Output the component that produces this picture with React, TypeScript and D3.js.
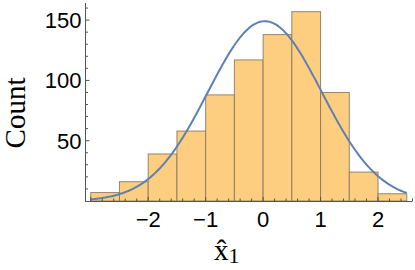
import React from "react";
import * as d3 from "d3";

const binEdges = [-3, -2.5, -2, -1.5, -1, -0.5, 0, 0.5, 1, 1.5, 2, 2.5];
const counts = [7, 16, 39, 58, 88, 117, 138, 157, 90, 24, 6];
const xMajorTicks = [-3, -2, -1, 0, 1, 2];
const xTickLabels = ["", "−2", "−1", "0", "1", "2"];
const yMajorTicks = [50, 100, 150];
const yTickLabels = ["50", "100", "150"];
const fitMean = 0.03;
const fitSd = 0.99;

const W = 415;
const H = 270;

export default function App() {
  const x = d3.scaleLinear().domain([-3.1, 2.6]).range([85, 412.5]);
  const y = d3.scaleLinear().domain([0, 164.2]).range([201, 3]);

  const total = d3.sum(counts);
  const bw = binEdges[1] - binEdges[0];
  const pdf = (v: number) =>
    (total * bw * Math.exp(-((v - fitMean) ** 2) / (2 * fitSd * fitSd))) /
    (fitSd * Math.sqrt(2 * Math.PI));
  const xs = d3.range(0, 301).map((i) => binEdges[0] + ((binEdges[binEdges.length - 1] - binEdges[0]) * i) / 300);
  const line = d3
    .line<number>()
    .x((d) => x(d))
    .y((d) => y(pdf(d)))
    .curve(d3.curveLinear);

  const xMinor = d3.range(-3, 2.61, 0.2).filter((t) => !xMajorTicks.some((m) => Math.abs(m - t) < 1e-6));
  const yMinor = d3.range(10, 161, 10).filter((t) => !yMajorTicks.includes(t));

  const axisColor = "#555";
  const sans = "Liberation Sans, Arial, sans-serif";
  const serif = "Liberation Serif, Times New Roman, serif";

  return (
    <svg width={W} height={H} style={{ position: "absolute", left: 0, top: 0 }}>
      <rect width={W} height={H} fill="#fff" />
      {counts.map((c, i) => (
        <rect
          key={i}
          x={x(binEdges[i])}
          y={y(c)}
          width={x(binEdges[i + 1]) - x(binEdges[i])}
          height={y(0) - y(c)}
          fill="#fdcd80"
          stroke="#86765c"
          strokeOpacity={0.85}
          strokeWidth={1}
        />
      ))}
      <path d={line(xs) || ""} fill="none" stroke="#5e81b5" strokeWidth={2} />
      <line x1={x.range()[0]} x2={x.range()[1]} y1={y(0) + 0.5} y2={y(0) + 0.5} stroke={axisColor} strokeWidth={1} />
      <line x1={85.5} x2={85.5} y1={y(0) + 1} y2={y.range()[1]} stroke={axisColor} strokeWidth={1} />
      {xMajorTicks.map((t) => (
        <line key={"xm" + t} x1={x(t)} x2={x(t)} y1={y(0)} y2={y(0) - 4} stroke={axisColor} />
      ))}
      {xMinor.map((t) => (
        <line key={"xn" + t} x1={x(t)} x2={x(t)} y1={y(0)} y2={y(0) - 2.5} stroke={axisColor} />
      ))}
      {yMajorTicks.map((t) => (
        <line key={"ym" + t} x1={85.5} x2={89.5} y1={y(t)} y2={y(t)} stroke={axisColor} />
      ))}
      {yMinor.map((t) => (
        <line key={"yn" + t} x1={85.5} x2={88} y1={y(t)} y2={y(t)} stroke={axisColor} />
      ))}
      {xMajorTicks.map((t, i) => (
        <text key={"xl" + t} x={x(t)} y={227} textAnchor="middle" fontFamily={sans} fontSize={22} fill="#000">
          {xTickLabels[i]}
        </text>
      ))}
      {yMajorTicks.map((t, i) => (
        <text key={"yl" + t} x={81.5} y={y(t) + 7.8} textAnchor="end" fontFamily={sans} fontSize={22} fill="#000">
          {yTickLabels[i]}
        </text>
      ))}
      <text
        transform={`translate(25,113) rotate(-90)`}
        textAnchor="middle"
        fontFamily={serif}
        fontSize={29}
        fill="#000"
      >
        Count
      </text>
      <text x={214} y={260} fontFamily={serif} fontSize={29} fill="#000">
        x̂
        <tspan fontSize={22} dy={3}>1</tspan>
      </text>
    </svg>
  );
}
